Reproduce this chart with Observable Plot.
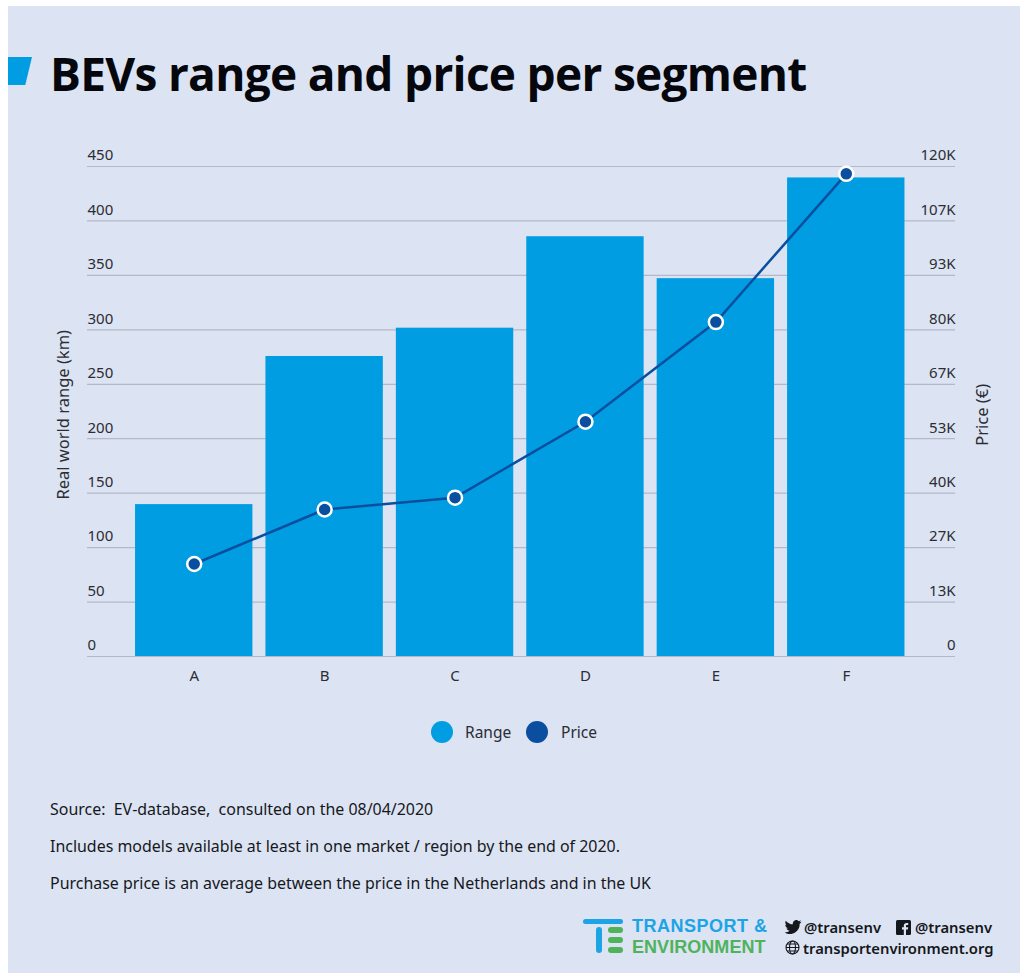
<!DOCTYPE html>
<html><head><meta charset="utf-8">
<script src="https://cdn.jsdelivr.net/npm/d3@7"></script>
<script src="https://cdn.jsdelivr.net/npm/@observablehq/plot@0.6"></script>
<style>
html,body{margin:0;padding:0;background:#fff;}
body{width:1020px;height:973px;position:relative;overflow:hidden;font-family:"Noto Sans",sans-serif;color:#222;}
#panel{position:absolute;left:8px;top:6px;right:0;bottom:0;background:#dce3f2;}
#flag{position:absolute;left:8px;top:57px;width:24px;height:28px;background:#019de2;clip-path:polygon(0 0,100% 0,72% 100%,0 100%);}
h1{position:absolute;left:50px;top:40px;margin:0;font:700 46px/66px "Open Sans",sans-serif;color:#05070d;letter-spacing:-.7px;white-space:nowrap;}
#chart{position:absolute;left:0;top:130px;}
#chart svg{background:transparent;overflow:visible;}
.lg{position:absolute;font-size:15.5px;line-height:20px;top:722px;color:#2a2d33;}
.dot{position:absolute;top:721px;width:22px;height:22px;border-radius:50%;}
.note{position:absolute;left:50px;font-size:15.95px;line-height:20px;color:#15181d;white-space:nowrap;}
.te{position:absolute;font:700 18px/21px "Liberation Sans",sans-serif;white-space:nowrap;}
.soc{position:absolute;font:600 14.8px/18px "Noto Sans",sans-serif;color:#14171c;white-space:nowrap;}
.lb{position:absolute;border-radius:3px;}
</style></head><body>
<div id="panel"></div><div id="flag"></div>
<h1>BEVs range and price per segment</h1>
<div id="chart"></div>
<div class="dot" style="left:431px;background:#019de2"></div><div class="lg" style="left:465px">Range</div>
<div class="dot" style="left:526px;background:#0a4f9f"></div><div class="lg" style="left:561px">Price</div>
<div class="note" style="top:799px">Source:&nbsp; EV-database,&nbsp; consulted on the 08/04/2020</div>
<div class="note" style="top:836px">Includes models available at least in one market / region by the end of 2020.</div>
<div class="note" style="top:873px">Purchase price is an average between the price in the Netherlands and in the UK</div>
<div class="lb" style="left:583px;top:919px;width:40px;height:5px;background:#1ba4e6"></div>
<div class="lb" style="left:596px;top:927px;width:6px;height:26px;background:#1ba4e6"></div>
<div class="lb" style="left:608px;top:927px;width:15px;height:6px;background:#4fb35c"></div>
<div class="lb" style="left:608px;top:937px;width:15px;height:6px;background:#4fb35c"></div>
<div class="lb" style="left:608px;top:947px;width:15px;height:6px;background:#4fb35c"></div>
<div class="te" style="left:632px;top:916px;color:#1ba4e6;letter-spacing:.5px">TRANSPORT &amp;</div>
<div class="te" style="left:632px;top:937px;color:#4fb35c;letter-spacing:.05px">ENVIRONMENT</div>
<div class="soc" style="left:804px;top:918px">@transenv</div>
<div class="soc" style="left:915px;top:918px">@transenv</div>
<div class="soc" style="left:803px;top:939px">transportenvironment.org</div>
<svg style="position:absolute;left:784px;top:920px" width="18" height="14" viewBox="0 0 24 20"><path fill="#14171c" d="M24 2.4c-.9.4-1.8.7-2.8.8 1-.6 1.8-1.6 2.2-2.7-1 .6-2 1-3.100 1.200A4.900 4.900 0 0 0 11.900 6.200C7.800 6 4.200 4 1.700.9.400 3.200 1 6.100 3.200 7.500c-.8 0-1.600-.2-2.200-.6 0 2.400 1.700 4.400 3.900 4.900-.7.200-1.500.2-2.200.1.600 2 2.400 3.400 4.600 3.400A9.900 9.900 0 0 1 0 17.800 14 14 0 0 0 21.500 5.400c1-.7 1.800-1.600 2.500-3z"/></svg>
<svg style="position:absolute;left:896px;top:920px" width="15" height="15" viewBox="0 0 15 15"><rect width="15" height="15" rx="1.500" fill="#14171c"/><path fill="#dce3f2" d="M10 15V9.500h1.900l.3-2.200H10V6c0-.6.200-1 1.100-1h1.100V3c-.2 0-.9-.1-1.600-.1-1.600 0-2.800 1-2.800 2.800v1.600H6v2.200h1.800V15z"/></svg>
<svg style="position:absolute;left:785px;top:940px" width="15" height="15" viewBox="0 0 15 15" fill="none" stroke="#14171c" stroke-width="1.100"><circle cx="7.500" cy="7.500" r="6.500"/><ellipse cx="7.500" cy="7.500" rx="3" ry="6.500"/><path d="M1 7.500h13M2 4h11M2 11h11"/></svg>
<script>
const segments = ["A","B","C","D","E","F"];
const rangeKm = [139.5,275.5,301.5,385.5,347,439.5];
const priceEur = [22650,36000,38900,57500,81900,118200];
const rangeTicks = [0,50,100,150,200,250,300,350,400,450];
const priceTickLabels = ["0","13K","27K","40K","53K","67K","80K","93K","107K","120K"];
const priceMax = 120000, rangeMax = 450;
const priceOnRange = priceEur.map(p => p / priceMax * rangeMax);
const rows = segments.map((s,i) => ({s, range:rangeKm[i], price:priceOnRange[i]}));
const chart = Plot.plot({
  width:1020, height:560,
  marginLeft:87, marginRight:65, marginTop:36, marginBottom:34,
  style:{background:"transparent",fontFamily:'"Noto Sans",sans-serif',fontSize:"15px",color:"#2a2d33"},
  x:{domain:segments, range:[122,917.5], padding:0.1, align:0.5, round:false, axis:null},
  y:{domain:[0,rangeMax], axis:null},
  marks:[
    Plot.ruleY(rangeTicks,{stroke:"#b3b9c8",strokeWidth:1.200}),
    Plot.barY(rows,{x:"s",y:"range",fill:"#019de2"}),
    Plot.line(rows,{x:"s",y:"price",stroke:"#0a4f9f",strokeWidth:2.500}),
    Plot.dot(rows,{x:"s",y:"price",r:7,fill:"#0a4f9f",stroke:"#fff",strokeWidth:2.500}),
    Plot.axisX(segments,{anchor:"bottom",tickSize:0,tickPadding:0,dy:14,fontSize:15,fill:"#2a2d33",label:null}),
    Plot.axisY(rangeTicks,{anchor:"left",tickSize:0,tickPadding:0,textAnchor:"start",dy:-11,fontSize:15,fill:"#2a2d33",label:null}),
    Plot.axisY(rangeTicks,{anchor:"right",tickSize:0,tickPadding:0,textAnchor:"end",dy:-11,fontSize:15,fill:"#2a2d33",label:null,
      tickFormat:d=>priceTickLabels[rangeTicks.indexOf(d)]}),
    Plot.text(["Real world range (km)"],{frameAnchor:"left",y:[222],dx:-24,rotate:-90,textAnchor:"middle",fontSize:16.500,fill:"#2a2d33"}),
    Plot.text(["Price (€)"],{frameAnchor:"right",y:[222],dx:27,rotate:-90,textAnchor:"middle",fontSize:16.500,fill:"#2a2d33"})
  ]
});
document.getElementById("chart").appendChild(chart);
</script>
</body></html>
